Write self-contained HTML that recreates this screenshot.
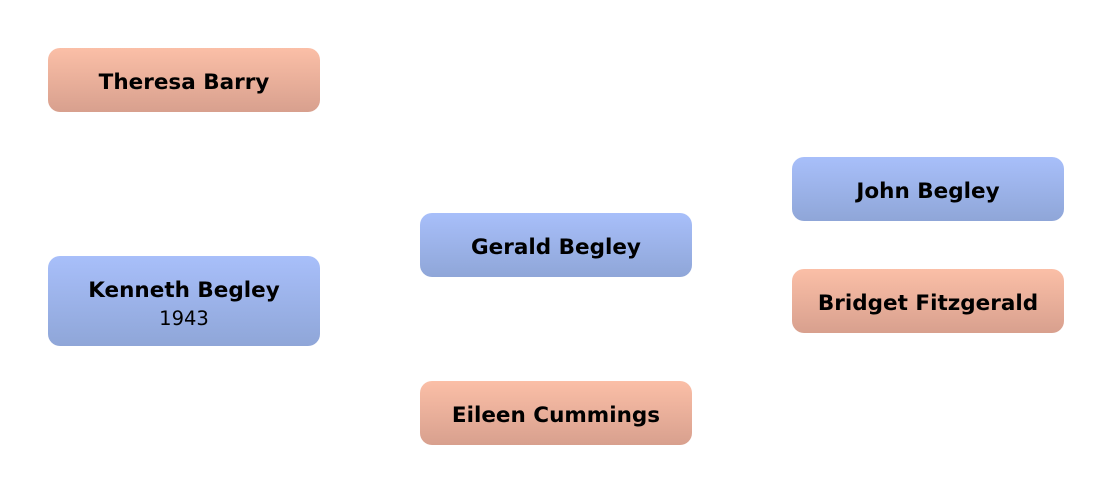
<!DOCTYPE html>
<html><head><style>
body{margin:0;width:1112px;height:493px;background:#fff;position:relative;font-family:"DejaVu Sans","Liberation Sans",sans-serif;overflow:hidden}
.b{position:absolute;width:272px;border-radius:12px;display:flex;flex-direction:column;align-items:center;justify-content:center;color:#000;box-sizing:border-box;padding-top:5px}
.f{background:linear-gradient(#fbbfa7,#d8a08e)}
.m{background:linear-gradient(#a8bffa,#8fa6d8)}
.n{font-weight:bold;font-size:21.5px;line-height:26px}
.d{font-size:19.5px;line-height:30px}
</style></head><body>
<div class="b f" style="left:48px;top:48px;height:64px"><div class="n">Theresa Barry</div></div>
<div class="b m" style="left:48px;top:256px;height:90px;padding-top:10px"><div class="n">Kenneth Begley</div><div class="d">1943</div></div>
<div class="b m" style="left:420px;top:213px;height:64px"><div class="n">Gerald Begley</div></div>
<div class="b f" style="left:420px;top:381px;height:64px"><div class="n">Eileen Cummings</div></div>
<div class="b m" style="left:792px;top:157px;height:64px"><div class="n">John Begley</div></div>
<div class="b f" style="left:792px;top:269px;height:64px"><div class="n">Bridget Fitzgerald</div></div>
</body></html>
